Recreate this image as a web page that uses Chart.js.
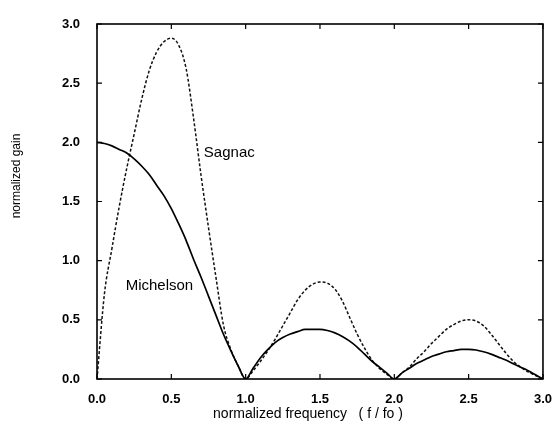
<!DOCTYPE html>
<html>
<head>
<meta charset="utf-8">
<script src="https://cdn.jsdelivr.net/npm/chart.js@4/dist/chart.umd.min.js"></script>
<style>
  html, body { margin: 0; padding: 0; background: #fff; }
  #wrap { width: 557px; height: 427px; }
</style>
</head>
<body>
<div id="wrap"><canvas id="chart" width="557" height="427"></canvas></div>
<script>
const freq = [
  0.00, 0.05, 0.10, 0.15, 0.20, 0.25, 0.30, 0.35, 0.40, 0.45,
  0.50, 0.55, 0.60, 0.65, 0.70, 0.75, 0.80, 0.85, 0.90, 0.95,
  1.00, 1.05, 1.10, 1.15, 1.20, 1.25, 1.30, 1.35, 1.40, 1.45,
  1.50, 1.55, 1.60, 1.65, 1.70, 1.75, 1.80, 1.85, 1.90, 1.95,
  2.00, 2.05, 2.10, 2.15, 2.20, 2.25, 2.30, 2.35, 2.40, 2.45,
  2.50, 2.55, 2.60, 2.65, 2.70, 2.75, 2.80, 2.85, 2.90, 2.95,
  3.00
];

const michelson = [
  2.00, 1.99, 1.97, 1.94, 1.91, 1.86, 1.80, 1.73, 1.64, 1.55,
  1.44, 1.31, 1.17, 1.01, 0.86, 0.70, 0.54, 0.38, 0.24, 0.11,
  0.00, 0.09, 0.18, 0.25, 0.31, 0.35, 0.38, 0.40, 0.42, 0.42,
  0.42, 0.41, 0.39, 0.36, 0.32, 0.27, 0.21, 0.15, 0.10, 0.05,
  0.00, 0.05, 0.09, 0.13, 0.16, 0.19, 0.21, 0.23, 0.24, 0.25,
  0.25, 0.245, 0.23, 0.21, 0.185, 0.16, 0.13, 0.10, 0.07, 0.035,
  0.00
];

const sagnac = [
  0.00, 0.72, 1.10, 1.46, 1.78, 2.07, 2.36, 2.60, 2.76, 2.85,
  2.88, 2.82, 2.62, 2.20, 1.72, 1.28, 0.86, 0.46, 0.25, 0.11,
  0.00, 0.07, 0.15, 0.24, 0.34, 0.45, 0.56, 0.67, 0.75, 0.80,
  0.82, 0.81, 0.76, 0.66, 0.52, 0.38, 0.26, 0.16, 0.09, 0.04,
  0.00, 0.05, 0.10, 0.17, 0.23, 0.30, 0.36, 0.42, 0.46, 0.49,
  0.50, 0.49, 0.45, 0.38, 0.30, 0.22, 0.15, 0.10, 0.06, 0.03,
  0.00
];

const xTicks = [0, 0.5, 1.0, 1.5, 2.0, 2.5, 3.0];
const yTicks = [0, 0.5, 1.0, 1.5, 2.0, 2.5, 3.0];

const labels = [
  { text: 'Sagnac', x: 0.89, y: 1.91 },
  { text: 'Michelson', x: 0.42, y: 0.79 }
];

const FONT = '"Liberation Sans", Arial, sans-serif';

const toPoints = (ys) => freq.map((f, i) => ({ x: f, y: ys[i] }));

// frame all round, inward ticks, curve names and axis titles
const framePlugin = {
  id: 'frame',
  afterDatasetsDraw(chart) {
    const { ctx, chartArea: a, scales: { x, y } } = chart;
    ctx.save();
    ctx.strokeStyle = '#000';
    ctx.lineWidth = 1.6;
    ctx.strokeRect(a.left, a.top, a.right - a.left, a.bottom - a.top);
    ctx.lineWidth = 1.2;
    ctx.beginPath();
    xTicks.forEach(v => {
      const px = x.getPixelForValue(v);
      ctx.moveTo(px, a.bottom); ctx.lineTo(px, a.bottom - 5);
      ctx.moveTo(px, a.top); ctx.lineTo(px, a.top + 5);
    });
    yTicks.forEach(v => {
      const py = y.getPixelForValue(v);
      ctx.moveTo(a.left, py); ctx.lineTo(a.left + 5, py);
      ctx.moveTo(a.right, py); ctx.lineTo(a.right - 5, py);
    });
    ctx.stroke();

    ctx.fillStyle = '#000';
    ctx.font = '15px ' + FONT;
    ctx.textAlign = 'center';
    ctx.textBaseline = 'middle';
    labels.forEach(l => {
      ctx.fillText(l.text, x.getPixelForValue(l.x), y.getPixelForValue(l.y));
    });

    ctx.font = '14px ' + FONT;
    ctx.fillText('normalized frequency   ( f / fo )', 308, 414);

    ctx.font = '12px ' + FONT;
    ctx.translate(17, 176);
    ctx.rotate(-Math.PI / 2);
    ctx.fillText('normalized gain', 0, 0);
    ctx.restore();
  }
};

const chartConfig = {
  type: 'line',
  data: {
    datasets: [
      {
        label: 'Michelson',
        data: toPoints(michelson),
        borderColor: '#000',
        borderWidth: 1.7,
        pointRadius: 0,
        cubicInterpolationMode: 'monotone',
        fill: false
      },
      {
        label: 'Sagnac',
        data: toPoints(sagnac),
        borderColor: '#111',
        borderWidth: 1.5,
        borderDash: [3, 2],
        pointRadius: 0,
        cubicInterpolationMode: 'monotone',
        fill: false
      }
    ]
  },
  options: {
    responsive: false,
    animation: false,
    layout: { padding: { left: 0, right: 7, top: 24, bottom: 0 } },
    plugins: {
      legend: { display: false },
      tooltip: { enabled: false }
    },
    scales: {
      x: {
        type: 'linear',
        min: 0,
        max: 3,
        afterFit: (s) => { s.height = 48; },
        afterBuildTicks: (s) => { s.ticks = xTicks.map(v => ({ value: v })); },
        grid: { display: false },
        border: { display: false },
        ticks: {
          padding: 5,
          color: '#000',
          font: { family: FONT, size: 13, weight: 'bold' },
          callback: (v) => v.toFixed(1),
          maxRotation: 0
        }
      },
      y: {
        type: 'linear',
        min: 0,
        max: 3,
        afterFit: (s) => { s.width = 97; },
        afterBuildTicks: (s) => { s.ticks = yTicks.map(v => ({ value: v })); },
        grid: { display: false },
        border: { display: false },
        ticks: {
          padding: 9,
          color: '#000',
          font: { family: FONT, size: 13, weight: 'bold' },
          callback: (v) => v.toFixed(1)
        }
      }
    }
  },
  plugins: [framePlugin]
};

new Chart(document.getElementById('chart'), chartConfig);
</script>
</body>
</html>
